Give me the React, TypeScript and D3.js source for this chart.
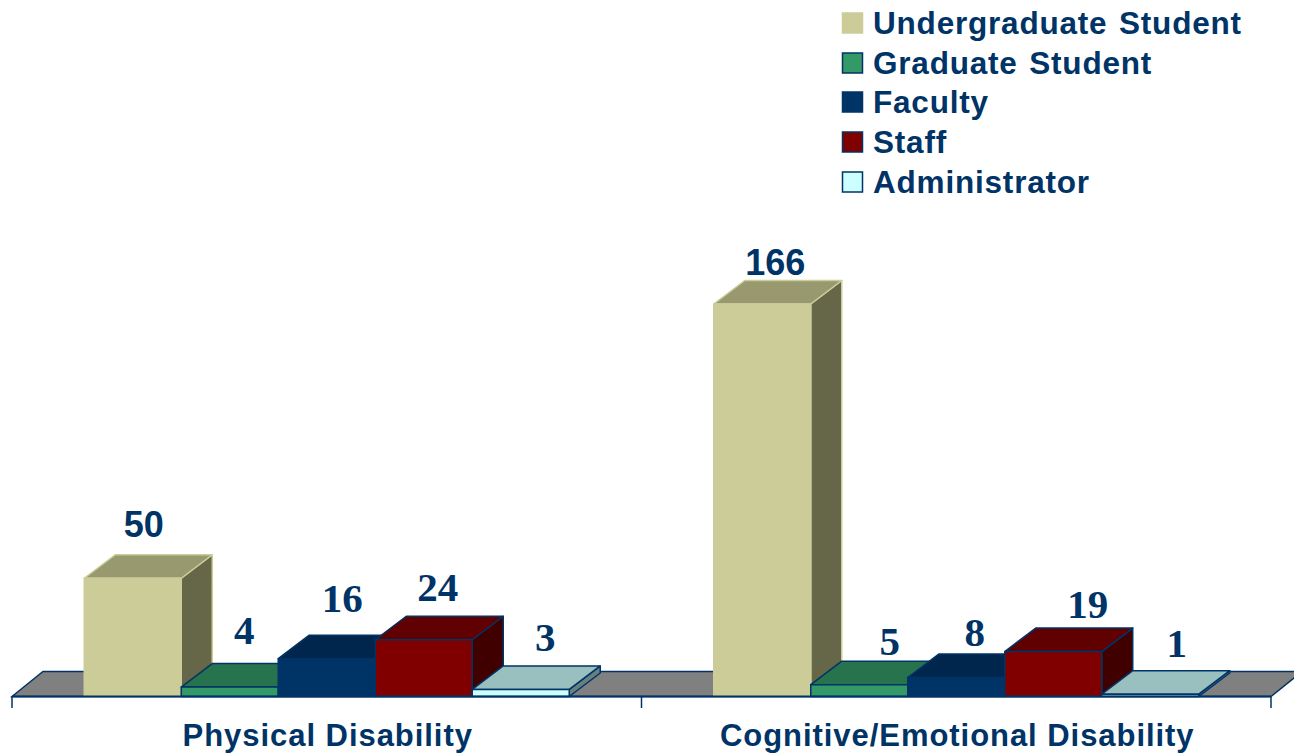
import React from "react";
import * as d3 from "d3";

const categories = ["Physical Disability", "Cognitive/Emotional Disability"];
const seriesNames = ["Undergraduate Student", "Graduate Student", "Faculty", "Staff", "Administrator"];
const physicalValues = [50, 4, 16, 24, 3];
const cognitiveValues = [166, 5, 8, 19, 1];
const groupValues = [physicalValues, cognitiveValues];

const frontColors = ["#CCCC99", "#339966", "#003366", "#800000", "#CCFFFF"];
const topColors = ["#999970", "#27734D", "#00264D", "#600000", "#99BFBF"];
const sideColors = ["#666648", "#1A4D33", "#001A33", "#400000", "#668080"];
const strokeColors = ["#CCCC99", "#003366", "#003366", "#003366", "#003366"];

const NAVY = "#003366";
const SANS = "'Liberation Sans', Arial, sans-serif";
const SERIF = "'Liberation Serif', 'Times New Roman', serif";

const W = 1294, H = 754;
const baseY = 696.5, axisL = 12, axisR = 1271;
const depthX = 31, depthY = 23.5, floorDX = 31, floorDY = 25;

const labelNudge = [
  [[-4.5, 537, "s"], [-1, 644, "r"], [0, 612, "r"], [-1.5, 601, "r"], [9, 651, "r"]],
  [[-2.5, 275, "s"], [15, 655, "r"], [3, 646, "r"], [19, 618, "r"], [11, 657, "r"]],
] as [number, number, string][][];

export default function App() {
  const x0 = d3.scaleBand<string>().domain(categories).range([axisL, axisR]).paddingInner(0).paddingOuter(0);
  const x1 = d3.scaleBand<string>().domain(seriesNames).range([0, x0.bandwidth()]).paddingInner(0).paddingOuter(0.745);
  const y = d3.scaleLinear().domain([0, 166]).range([baseY, 304]);
  const bw = x1.bandwidth();
  const floor = `M${axisL},${baseY}L${axisL + floorDX},${baseY - floorDY}L${axisR + floorDX},${baseY - floorDY}L${axisR},${baseY}Z`;
  const tickXs = [axisL, x0(categories[1])!, axisR];

  return (
    <svg width={W} height={H} viewBox={`0 0 ${W} ${H}`} style={{ position: "absolute", left: 0, top: 0, background: "#fff" }}>
      <path d={floor} fill="#808080" stroke={NAVY} strokeWidth={1.5} />
      {categories.map((c, gi) =>
        groupValues[gi].map((v, si) => {
          const l = x0(c)! + x1(seriesNames[si])!;
          const r = l + bw;
          const t = y(v);
          const st = strokeColors[si];
          return (
            <g key={`${gi}-${si}`} stroke={st} strokeWidth={1.5} strokeLinejoin="round">
              <path d={`M${r},${baseY}L${r + depthX},${baseY - depthY}L${r + depthX},${t - depthY}L${r},${t}Z`} fill={sideColors[si]} />
              <path d={`M${l},${t}L${l + depthX},${t - depthY}L${r + depthX},${t - depthY}L${r},${t}Z`} fill={topColors[si]} />
              <rect x={l} y={t} width={bw} height={baseY - t} fill={frontColors[si]} />
            </g>
          );
        })
      )}
      <line x1={axisL} x2={axisR} y1={baseY} y2={baseY} stroke={NAVY} strokeWidth={2} />
      {tickXs.map((tx) => (
        <line key={tx} x1={tx} x2={tx} y1={baseY} y2={708} stroke={NAVY} strokeWidth={1.5} />
      ))}
      {categories.map((c, gi) =>
        groupValues[gi].map((v, si) => {
          const [nx, by, f] = labelNudge[gi][si];
          const cx = x0(c)! + x1(seriesNames[si])! + bw / 2 + depthX / 2 + nx;
          return (
            <text key={`${gi}-${si}`} x={cx} y={by} textAnchor="middle" fill={NAVY} fontWeight="bold"
              fontFamily={f === "s" ? SANS : SERIF} fontSize={f === "s" ? 36 : 41}>
              {v}
            </text>
          );
        })
      )}
      {categories.map((c) => (
        <text key={c} x={x0(c)! + x0.bandwidth() / 2 + 1} y={746} textAnchor="middle" fill={NAVY}
          fontWeight="bold" fontFamily={SANS} fontSize={31} letterSpacing={0.95}>
          {c}
        </text>
      ))}
      {seriesNames.map((s, i) => {
        const ly = [13, 53, 92, 132, 172][i];
        return (
          <g key={s}>
            <rect x={842.5} y={ly} width={20} height={20} fill={frontColors[i]} stroke={strokeColors[i]} strokeWidth={1.5} />
            <text x={873} y={ly + 21} fill={NAVY} fontWeight="bold" fontFamily={SANS} fontSize={31.5}
              letterSpacing={0.8} wordSpacing={2}>{s}</text>
          </g>
        );
      })}
    </svg>
  );
}
